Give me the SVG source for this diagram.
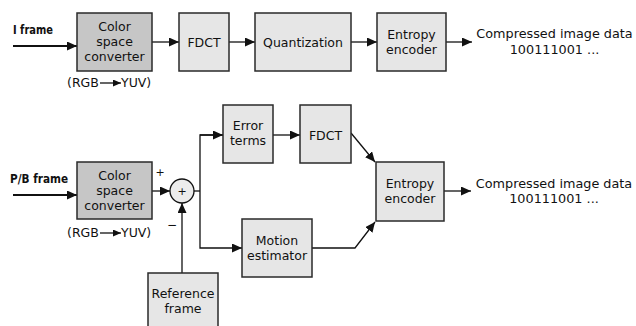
<svg xmlns="http://www.w3.org/2000/svg" width="636" height="326" viewBox="0 0 636 326">
<defs>
<marker id="ah" markerUnits="userSpaceOnUse" markerWidth="11" markerHeight="10" refX="10" refY="4.5" orient="auto">
<path d="M0,0 L10,4.5 L0,9 Z" fill="#111"/>
</marker>
<marker id="ahs" markerUnits="userSpaceOnUse" markerWidth="9" markerHeight="8" refX="8" refY="3.5" orient="auto">
<path d="M0,0 L8,3.5 L0,7 Z" fill="#111"/>
</marker>
</defs>
<style>
.box{fill:#e6e6e6;stroke:#2a2a2a;stroke-width:1.5}
.dark{fill:#c6c6c6;stroke:#2a2a2a;stroke-width:1.5}
.t{font-family:"DejaVu Sans","Open Sans",sans-serif;font-size:12.5px;fill:#111;text-anchor:middle}
.lbl{font-family:"DejaVu Sans Condensed","DejaVu Sans",sans-serif;font-size:12px;font-weight:bold;fill:#111}
.c{fill:none;stroke:#111;stroke-width:1.3}
.in{fill:none;stroke:#111;stroke-width:2}
</style>
<rect width="636" height="326" fill="#ffffff"/>

<g id="connectors">
<line class="in" x1="13" y1="46" x2="77" y2="46" marker-end="url(#ah)"/>
<line class="c" x1="152" y1="42" x2="179" y2="42" marker-end="url(#ah)"/>
<line class="c" x1="229" y1="42" x2="255" y2="42" marker-end="url(#ah)"/>
<line class="c" x1="351" y1="42" x2="377" y2="42" marker-end="url(#ah)"/>
<line class="c" x1="446" y1="42" x2="472" y2="42" marker-end="url(#ah)"/>

<line class="in" x1="13" y1="195" x2="77" y2="195" marker-end="url(#ah)"/>
<line class="c" x1="152" y1="191" x2="170" y2="191" marker-end="url(#ah)"/>
<line class="c" x1="182" y1="273" x2="182" y2="203" marker-end="url(#ah)"/>
<polyline class="c" points="194,191 200,191"/>
<polyline class="c" points="223,135 200,135 200,248 242,248" marker-end="url(#ah)"/>
<line class="c" x1="200" y1="135" x2="223" y2="135" marker-end="url(#ah)"/>
<line class="c" x1="273" y1="135" x2="300" y2="135" marker-end="url(#ah)"/>
<line class="c" x1="351" y1="133" x2="375" y2="162" marker-end="url(#ah)"/>
<polyline class="c" points="312,248 355,248 375,222" marker-end="url(#ah)"/>
<line class="c" x1="444" y1="191" x2="471" y2="191" marker-end="url(#ah)"/>
</g>

<text class="lbl" x="13" y="34" textLength="40" lengthAdjust="spacingAndGlyphs">I frame</text>
<text class="lbl" x="10" y="183" textLength="58" lengthAdjust="spacingAndGlyphs">P/B frame</text>

<g id="csc1">
<rect class="dark" x="77" y="13" width="75" height="58"/>
<text class="t" x="114.5" y="31">Color</text>
<text class="t" x="114.5" y="46">space</text>
<text class="t" x="114.5" y="61">converter</text>
</g>
<g id="rgb1">
<text class="t" x="67" y="87" style="text-anchor:start">(RGB</text>
<line class="c" x1="100" y1="83" x2="121" y2="83" marker-end="url(#ahs)"/>
<text class="t" x="121" y="87" style="text-anchor:start">YUV)</text>
</g>
<g id="fdct1">
<rect class="box" x="179" y="13" width="50" height="58"/>
<text class="t" x="204" y="47">FDCT</text>
</g>
<g id="quant">
<rect class="box" x="255" y="13" width="96" height="58"/>
<text class="t" x="303" y="47">Quantization</text>
</g>
<g id="ent1">
<rect class="box" x="377" y="13" width="69" height="58"/>
<text class="t" x="411.5" y="38.5">Entropy</text>
<text class="t" x="411.5" y="53.5">encoder</text>
</g>
<g id="out1">
<text class="t" x="554.5" y="37.5" style="font-size:12.8px">Compressed image data</text>
<text class="t" x="554.5" y="54" style="font-size:12.8px">100111001 ...</text>
</g>

<g id="csc2">
<rect class="dark" x="77" y="162" width="75" height="57"/>
<text class="t" x="114.5" y="180">Color</text>
<text class="t" x="114.5" y="195">space</text>
<text class="t" x="114.5" y="210">converter</text>
</g>
<g id="rgb2">
<text class="t" x="67" y="237" style="text-anchor:start">(RGB</text>
<line class="c" x1="100" y1="233" x2="121" y2="233" marker-end="url(#ahs)"/>
<text class="t" x="121" y="237" style="text-anchor:start">YUV)</text>
</g>
<g id="sum">
<circle cx="182" cy="191" r="12" fill="#ececec" stroke="#111" stroke-width="1.3"/>
<text class="t" x="182" y="195" style="font-size:11px">+</text>
<text class="t" x="160" y="176" style="font-size:11px">+</text>
<text class="t" x="172" y="229" style="font-size:12px">−</text>
</g>
<g id="err">
<rect class="box" x="223" y="105" width="50" height="58"/>
<text class="t" x="248" y="130">Error</text>
<text class="t" x="248" y="145">terms</text>
</g>
<g id="fdct2">
<rect class="box" x="300" y="105" width="51" height="58"/>
<text class="t" x="325.5" y="140">FDCT</text>
</g>
<g id="motion">
<rect class="box" x="242" y="219" width="70" height="58"/>
<text class="t" x="277" y="244.5">Motion</text>
<text class="t" x="277" y="259.5">estimator</text>
</g>
<g id="ref">
<rect class="box" x="148" y="273" width="70" height="58"/>
<text class="t" x="183" y="297.5">Reference</text>
<text class="t" x="183" y="312.5">frame</text>
</g>
<g id="ent2">
<rect class="box" x="376" y="162" width="68" height="59"/>
<text class="t" x="410" y="187.5">Entropy</text>
<text class="t" x="410" y="202.5">encoder</text>
</g>
<g id="out2">
<text class="t" x="554" y="187.5" style="font-size:12.8px">Compressed image data</text>
<text class="t" x="554" y="203" style="font-size:12.8px">100111001 ...</text>
</g>
</svg>
